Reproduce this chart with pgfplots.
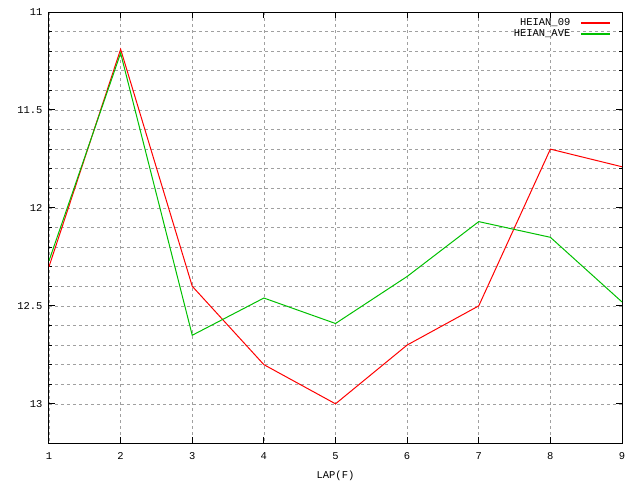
\documentclass[border=0pt]{standalone}
\usepackage{fontspec}
\setmainfont{Liberation Mono}
\usepackage{pgfplots}
\pgfplotsset{compat=1.18}
\definecolor{gpgreen}{RGB}{0,192,0}
\definecolor{gpgrid}{RGB}{160,160,160}
\begin{document}
\fontsize{10}{12}\selectfont
\begin{tikzpicture}
\begin{axis}[
    scale only axis,
    width=573bp, height=431bp,
    xmin=1, xmax=9,
    ymin=11, ymax=13.2,
    y dir=reverse,
    xtick={1,...,9},
    ytick={11,11.5,12,12.5,13},
    minor y tick num=4,
    grid=both,
    major grid style={gpgrid, line width=0.6bp, dash pattern=on 3bp off 3bp},
    minor grid style={gpgrid, line width=0.6bp, dash pattern=on 3bp off 3bp},
    axis line style={black, line width=1bp},
    tick style={black, line width=1bp},
    major tick length=6bp,
    minor tick length=3bp,
    tick align=inside,
    /pgf/number format/assume math mode=true,
    /pgf/number format/fixed,
    yticklabel style={font=\fontsize{10.5}{12}\selectfont, xshift=-3bp},
    xticklabel style={font=\fontsize{10.5}{12}\selectfont, yshift=-6bp},
    xlabel={LAP(F)},
    xlabel style={font=\fontsize{10.5}{12}\selectfont, yshift=-4bp},
    legend plot pos=right,
    legend cell align=right,
    legend image code/.code={\draw[#1, line width=1.5bp] (0bp,0bp) -- (29bp,0bp);},
    legend style={at={(axis description cs:1,1)}, anchor=north east, xshift=-8bp, yshift=-2.5bp,
        draw=none, fill=none, font=\fontsize{10.5}{12}\selectfont,
        row sep=-1.5bp, column sep=8bp},
]
\addplot[red, line width=1bp] coordinates {
(1,12.30) (2,11.19) (3,12.40) (4,12.80) (5,13.00) (6,12.70) (7,12.50) (8,11.70) (9,11.79)};
\addlegendentry{HEIAN\_09}
\addplot[gpgreen, line width=1bp] coordinates {
(1,12.27) (2,11.21) (3,12.65) (4,12.46) (5,12.59) (6,12.35) (7,12.07) (8,12.15) (9,12.48)};
\addlegendentry{HEIAN\_AVE}
\end{axis}
\path[use as bounding box] ([shift={(-49bp,-37bp)}]current axis.south west) rectangle ([shift={(18bp,12bp)}]current axis.north east);
\end{tikzpicture}
\end{document}
